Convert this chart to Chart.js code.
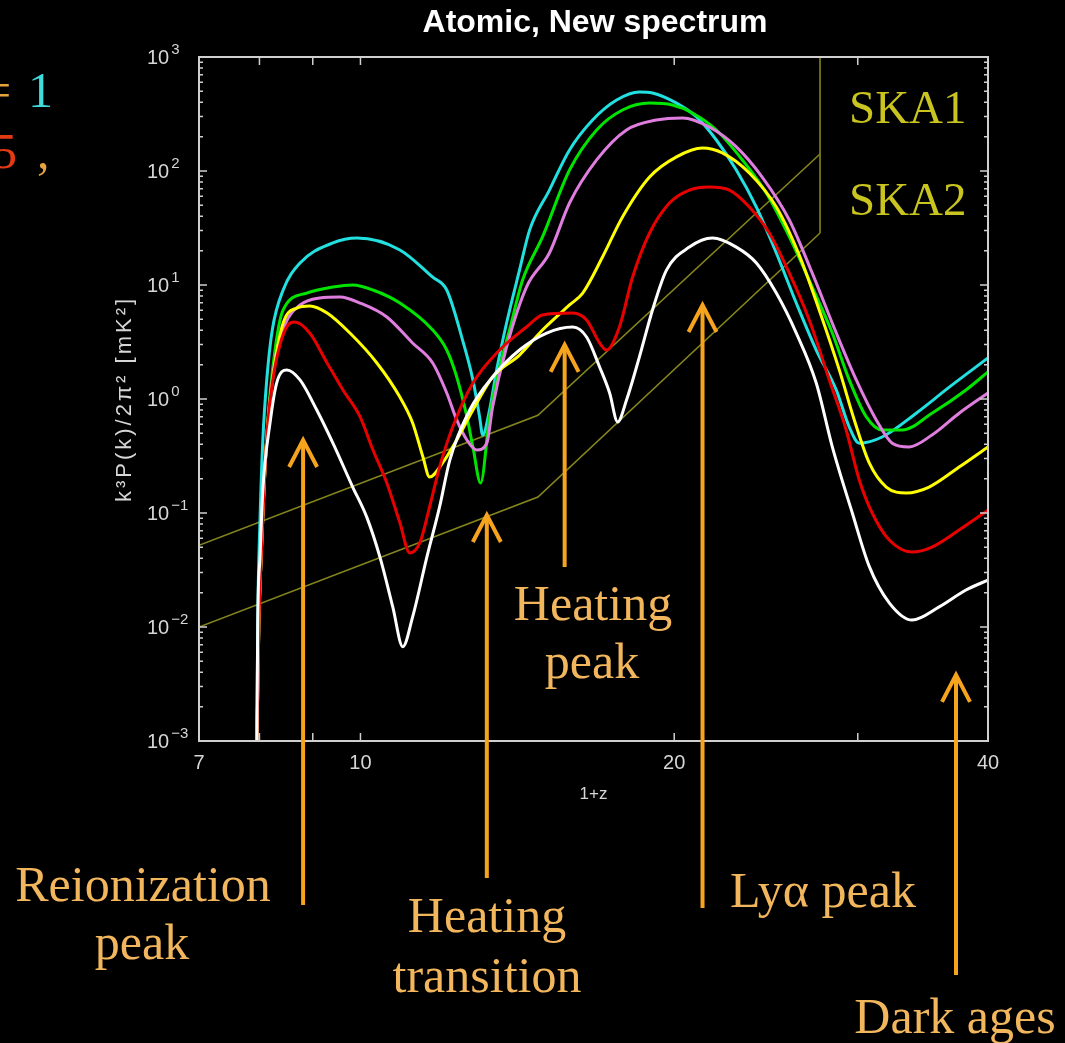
<!DOCTYPE html>
<html>
<head>
<meta charset="utf-8">
<script src="https://cdn.jsdelivr.net/npm/chart.js@4.4.1/dist/chart.umd.min.js"></script>
<style>
  html, body { margin: 0; padding: 0; background: #000; }
  canvas { display: block; }
</style>
</head>
<body>
<canvas id="c" width="1065" height="1043"></canvas>
<script>
// k^3 P(k) / 2pi^2 [mK^2] against 1+z
var cyanX = [7.955, 7.97, 8.01, 8.06, 8.13, 8.23, 8.43, 8.75, 9.41, 9.92, 10.91, 11.73, 12.10, 12.53, 12.82, 13.01, 13.10, 13.30, 13.51, 13.81, 14.21, 14.53, 15.18, 15.87, 16.70, 17.61, 18.52, 19.06, 20.1, 21.01, 21.95, 22.94, 23.98, 25.06, 26.19, 27.37, 28.61, 29.44, 30.10, 31.66, 34.13, 36.72, 40];
var cyanY = [0.001, 0.0108, 0.087, 0.437, 1.47, 4.03, 9.04, 15.6, 23.4, 25.8, 20.3, 11.7, 9.04, 3.29, 1.47, 0.70, 0.483, 0.80, 1.80, 4.64, 13.5, 30.3, 68, 153, 280, 419, 493, 483, 394, 298, 187, 102, 48.3, 19.1, 6.95, 2.69, 1.20, 0.568, 0.41, 0.464, 0.75, 1.27, 2.29];

var greenX = [7.955, 7.97, 7.99, 8.03, 8.08, 8.15, 8.28, 8.43, 8.88, 9.41, 9.83, 10.28, 10.91, 11.73, 12.10, 12.37, 12.65, 12.82, 13.04, 13.30, 13.60, 13.90, 14.31, 14.95, 15.87, 16.85, 17.84, 18.94, 19.92, 20.82, 21.95, 23.25, 24.51, 25.79, 27.13, 28.36, 29.44, 30.56, 31.66, 33.10, 35.34, 38.1, 40];
var greenY = [0.001, 0.0028, 0.0108, 0.041, 0.159, 0.65, 2.69, 6.04, 8.5, 9.6, 10, 9.04, 6.95, 4.03, 2.69, 1.56, 0.70, 0.38, 0.183, 0.70, 1.91, 4.03, 11.1, 26.4, 102, 229, 343, 394, 379, 323, 229, 125, 64.1, 26.4, 9.6, 3.79, 1.47, 0.70, 0.535, 0.535, 0.75, 1.20, 1.73];

var violetX = [7.955, 7.97, 7.99, 8.03, 8.08, 8.15, 8.28, 8.46, 8.75, 9.14, 9.56, 9.99, 10.60, 11.22, 11.73, 12.10, 12.37, 12.65, 12.93, 13.22, 13.39, 13.81, 14.43, 15.18, 15.87, 16.85, 18.0, 19.23, 20.37, 21.61, 22.94, 24.29, 25.79, 27.13, 28.61, 29.9, 31.25, 32.37, 33.61, 35.34, 37.53, 40];
var violetY = [0.001, 0.0028, 0.0108, 0.041, 0.159, 0.62, 2.20, 4.46, 6.68, 7.69, 7.85, 6.95, 5.24, 3.10, 2.07, 1.13, 0.655, 0.437, 0.357, 0.41, 0.85, 2.86, 9.6, 19.1, 52.4, 125, 229, 280, 292, 243, 163, 88.5, 37.2, 12.7, 3.79, 1.47, 0.655, 0.41, 0.38, 0.483, 0.75, 1.13];

var yellowX = [7.955, 7.97, 7.99, 8.03, 8.08, 8.15, 8.26, 8.43, 8.69, 8.94, 9.29, 9.77, 10.37, 10.91, 11.22, 11.48, 11.65, 11.99, 12.37, 12.82, 13.39, 14.21, 14.95, 15.87, 16.34, 17.07, 17.84, 18.94, 20.1, 21.29, 22.24, 23.61, 25.06, 26.36, 27.55, 28.80, 29.77, 30.77, 31.95, 33.39, 35.12, 37.53, 40];
var yellowY = [0.001, 0.0028, 0.0108, 0.041, 0.159, 0.62, 1.80, 4.64, 6.28, 6.55, 5.68, 3.79, 2.07, 1.04, 0.62, 0.31, 0.207, 0.275, 0.437, 0.80, 1.56, 2.43, 4.03, 6.68, 8.5, 17.6, 39.5, 88.5, 133, 159, 144, 96, 48.3, 18.3, 6.04, 1.80, 0.655, 0.275, 0.169, 0.150, 0.169, 0.253, 0.38];

var redX = [7.955, 7.97, 7.99, 8.03, 8.08, 8.15, 8.24, 8.37, 8.52, 8.65, 8.94, 9.29, 9.62, 9.99, 10.28, 10.60, 10.91, 11.15, 11.40, 11.65, 11.91, 12.26, 12.82, 13.60, 14.43, 14.95, 15.98, 16.48, 16.96, 17.22, 17.72, 18.24, 18.94, 19.79, 20.68, 21.61, 22.59, 23.61, 24.67, 25.79, 26.95, 28.17, 29.24, 30.10, 30.97, 32.16, 33.83, 35.34, 37.53, 40];
var redY = [0.001, 0.0028, 0.0108, 0.041, 0.159, 0.62, 1.47, 2.98, 4.46, 4.73, 3.79, 2.07, 1.2, 0.70, 0.357, 0.183, 0.082, 0.0446, 0.0546, 0.113, 0.253, 0.568, 1.38, 2.69, 4.28, 5.46, 5.68, 4.93, 3.10, 2.69, 4.28, 11.7, 28.6, 52.4, 68, 72.4, 68, 48.3, 28.6, 12.7, 4.93, 1.47, 0.535, 0.195, 0.1, 0.058, 0.0455, 0.0503, 0.071, 0.106];

var whiteX = [7.955, 7.97, 8.01, 8.06, 8.19, 8.31, 8.50, 8.75, 9.08, 9.41, 9.83, 10.14, 10.44, 10.74, 10.98, 11.22, 11.58, 11.91, 12.18, 12.73, 13.39, 14.21, 15.09, 15.98, 16.48, 16.96, 17.34, 17.65, 18.0, 18.52, 19.06, 19.66, 20.68, 21.76, 22.94, 23.98, 25.06, 26.19, 27.37, 28.36, 29.64, 30.77, 32.16, 33.83, 35.91, 38.1, 40];
var whiteY = [0.001, 0.0108, 0.041, 0.159, 0.62, 1.38, 1.80, 1.47, 0.80, 0.41, 0.169, 0.092, 0.041, 0.015, 0.0067, 0.0122, 0.041, 0.113, 0.29, 0.80, 1.56, 2.69, 3.79, 4.28, 3.50, 1.91, 1.13, 0.63, 0.98, 2.34, 6.0, 13.5, 21.5, 25.8, 21.5, 15.6, 8.5, 3.79, 1.38, 0.38, 0.1, 0.034, 0.0163, 0.0115, 0.015, 0.0211, 0.0258];

// SKA sensitivity curves
var skaX = [7, 14.8, 27.6];
var ska1Y = [0.052, 0.72, 141];
var ska2Y = [0.010, 0.138, 28.6];
var skaEdgeY = [28.6, 1000];

// axis ticks
var xTickValues = [7, 8, 9, 10, 20, 30, 40];
var xTickLabels = ['7', '', '', '10', '20', '', '40'];
var yDecades = [-3, -2, -1, 0, 1, 2, 3];
var yExpLabels = ['\u22123', '\u22122', '\u22121', '0', '1', '2', '3'];

// annotation arrows: 1+z, tip value, tail pixel
var arrowX = [8.81, 13.22, 15.70, 21.29, 37.27];
var arrowTipY = [0.437, 0.096, 2.98, 6.68, 0.0038];
var arrowTail = [905, 878, 567, 908, 975];

var sans = "'Liberation Sans', Arial, Helvetica, sans-serif";
var serif = "'Liberation Serif', 'Times New Roman', serif";
var axisColor = '#cfcfcf';
var orange = '#f6a41e';
var labelOrange = '#f2b65c';
var skaColor = '#85851e';

function pts(xs, ys) {
  return xs.map(function (x, i) { return { x: x, y: ys[i] }; });
}

function curve(xs, ys, color) {
  return {
    data: pts(xs, ys),
    borderColor: color,
    borderWidth: 3,
    pointRadius: 0,
    cubicInterpolationMode: 'monotone',
    fill: false
  };
}

function skaLine(xs, ys) {
  return {
    data: pts(xs, ys),
    borderColor: skaColor,
    borderWidth: 1.6,
    pointRadius: 0,
    tension: 0,
    order: 10,
    fill: false
  };
}

var yTickValues = [];
yDecades.forEach(function (d) {
  for (var m = 1; m < 10; m++) {
    if (d === 3 && m > 1) break;
    yTickValues.push(m * Math.pow(10, d));
  }
});

var decor = {
  id: 'decor',
  beforeDraw: function (chart) {
    var ctx = chart.ctx;
    ctx.save();
    ctx.fillStyle = '#000';
    ctx.fillRect(0, 0, chart.width, chart.height);
    ctx.restore();
  },
  afterDraw: function (chart) {
    var ctx = chart.ctx;
    var a = chart.chartArea;
    var xs = chart.scales.x, ys = chart.scales.y;
    ctx.save();

    // frame + inward ticks
    ctx.strokeStyle = axisColor;
    ctx.lineWidth = 2;
    ctx.strokeRect(a.left, a.top, a.right - a.left, a.bottom - a.top);
    ctx.lineWidth = 1.5;
    ctx.beginPath();
    xTickValues.forEach(function (v) {
      var px = xs.getPixelForValue(v);
      ctx.moveTo(px, a.bottom); ctx.lineTo(px, a.bottom - 8);
      ctx.moveTo(px, a.top); ctx.lineTo(px, a.top + 8);
    });
    yTickValues.forEach(function (v) {
      var py = ys.getPixelForValue(v);
      var major = Math.abs(Math.log10(v) - Math.round(Math.log10(v))) < 1e-6;
      var len = major ? 8 : 4;
      ctx.moveTo(a.left, py); ctx.lineTo(a.left + len, py);
      ctx.moveTo(a.right, py); ctx.lineTo(a.right - len, py);
    });
    ctx.stroke();

    // y tick labels 10^n
    ctx.fillStyle = '#d6d6d6';
    yDecades.forEach(function (d, i) {
      var py = ys.getPixelForValue(Math.pow(10, d));
      ctx.font = '20px ' + sans;
      ctx.textAlign = 'left';
      ctx.textBaseline = 'middle';
      ctx.fillText('10', 147, py + 1);
      var w = ctx.measureText('10').width;
      ctx.font = '15px ' + sans;
      ctx.textBaseline = 'alphabetic';
      ctx.fillText(yExpLabels[i], 147 + w + 2, py - 3);
    });

    // axis titles
    ctx.font = '17px ' + sans;
    ctx.textAlign = 'center';
    ctx.textBaseline = 'middle';
    ctx.fillText('1+z', (a.left + a.right) / 2, 794);
    ctx.save();
    ctx.translate(131, (a.top + a.bottom) / 2);
    ctx.rotate(-Math.PI / 2);
    ctx.font = '22px ' + sans;
    ctx.textBaseline = 'alphabetic';
    if ('letterSpacing' in ctx) ctx.letterSpacing = '3px';
    ctx.fillText('k\u00b3P(k)/2\u03c0\u00b2 [mK\u00b2]', 0, 0);
    if ('letterSpacing' in ctx) ctx.letterSpacing = '0px';
    ctx.restore();

    // plot title
    ctx.fillStyle = '#ffffff';
    ctx.font = 'bold 32px ' + sans;
    ctx.textAlign = 'center';
    ctx.textBaseline = 'alphabetic';
    ctx.fillText('Atomic, New spectrum', 595, 32);

    // SKA labels
    ctx.fillStyle = '#c9c41f';
    ctx.font = '47px ' + serif;
    ctx.textAlign = 'left';
    ctx.fillText('SKA1', 849, 123);
    ctx.fillText('SKA2', 849, 215);

    // arrows
    ctx.strokeStyle = orange;
    ctx.lineWidth = 4;
    ctx.lineCap = 'butt';
    ctx.lineJoin = 'miter';
    arrowX.forEach(function (x, i) {
      var px = xs.getPixelForValue(x);
      var tip = ys.getPixelForValue(arrowTipY[i]);
      ctx.beginPath();
      ctx.moveTo(px, arrowTail[i]);
      ctx.lineTo(px, tip + 2);
      ctx.stroke();
      ctx.beginPath();
      ctx.moveTo(px - 14, tip + 27);
      ctx.lineTo(px, tip);
      ctx.lineTo(px + 14, tip + 27);
      ctx.stroke();
    });

    // annotation text
    ctx.fillStyle = labelOrange;
    ctx.font = '50px ' + serif;
    ctx.textAlign = 'center';
    ctx.fillText('Reionization', 143, 901);
    ctx.fillText('peak', 142, 959);
    ctx.fillText('Heating', 487, 932);
    ctx.fillText('transition', 487, 992);
    ctx.fillText('Heating', 593, 620);
    ctx.fillText('peak', 592, 678);
    ctx.fillText('Ly\u03b1 peak', 823, 907);
    ctx.fillText('Dark ages', 955, 1033);

    // cut-off legend fragments at left edge
    ctx.textAlign = 'left';
    ctx.font = '50px ' + serif;
    ctx.fillStyle = '#e6a23c';
    ctx.fillText('=', -17, 107);
    ctx.fillStyle = '#3fdcdc';
    ctx.fillText('1', 28, 107);
    ctx.fillStyle = '#e23a12';
    ctx.fillText('5', -8, 168);
    ctx.fillStyle = '#e6a23c';
    ctx.fillText(',', 37, 168);

    ctx.restore();
  }
};

new Chart(document.getElementById('c'), {
  type: 'line',
  data: {
    datasets: [
      curve(whiteX, whiteY, '#ffffff'),
      curve(redX, redY, '#e80000'),
      curve(yellowX, yellowY, '#ffff00'),
      curve(violetX, violetY, '#e07ee0'),
      curve(greenX, greenY, '#00e400'),
      curve(cyanX, cyanY, '#22e0e0'),
      skaLine(skaX, ska1Y),
      skaLine(skaX, ska2Y),
      skaLine([27.6, 27.6], skaEdgeY)
    ]
  },
  options: {
    responsive: false,
    animation: false,
    devicePixelRatio: 1,
    layout: { padding: { left: 0, right: 77, top: 57, bottom: 0 } },
    plugins: {
      legend: { display: false },
      tooltip: { enabled: false },
      title: { display: false }
    },
    scales: {
      x: {
        type: 'logarithmic',
        min: 7,
        max: 40,
        afterBuildTicks: function (s) {
          s.ticks = xTickValues.map(function (v) { return { value: v }; });
        },
        afterFit: function (s) { s.height = 302; },
        ticks: {
          autoSkip: false,
          maxRotation: 0,
          padding: 10,
          color: '#d6d6d6',
          font: { family: sans, size: 20 },
          callback: function (v, i) { return xTickLabels[i]; }
        },
        grid: { display: false, drawTicks: false },
        border: { display: false }
      },
      y: {
        type: 'logarithmic',
        min: 0.001,
        max: 1000,
        afterBuildTicks: function (s) {
          s.ticks = yTickValues.map(function (v) { return { value: v }; });
        },
        afterFit: function (s) { s.width = 199; },
        ticks: { display: false },
        grid: { display: false, drawTicks: false },
        border: { display: false }
      }
    }
  },
  plugins: [decor]
});
</script>
</body>
</html>
